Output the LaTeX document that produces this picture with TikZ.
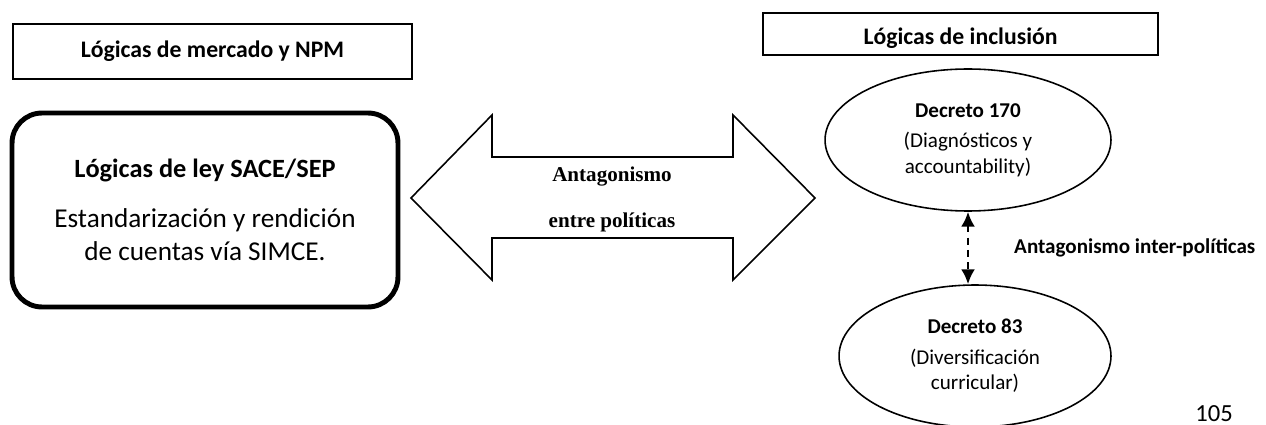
\documentclass[tikz,border=0pt]{standalone}
\usepackage{fontspec}
\setmainfont{Carlito}
\newfontfamily\timesfont{Liberation Serif}
\usetikzlibrary{shapes.geometric,arrows.meta}
\begin{document}
\begin{tikzpicture}[x=0.02cm,y=-0.02cm,
        headbox/.style={draw,line width=0.9pt,inner sep=0pt,font=\fontsize{13.5}{16}\selectfont\bfseries},
        leybox/.style={draw,line width=2.8pt,rounded corners=0.6cm,inner sep=0pt,align=center},
        decreto/.style={draw,ellipse,line width=0.9pt,inner sep=0pt,align=center,font=\fontsize{12}{14.5}\selectfont},
        arrowtext/.style={font=\timesfont\fontsize{12}{14}\selectfont\bfseries},
        pagenum/.style={anchor=north west,inner sep=0pt,font=\fontsize{14}{16}\selectfont}]
                \useasboundingbox (0,0) rectangle (1266,425);

                \node[headbox,minimum width=7.98cm,minimum height=1.1cm] (mercado) at (212.5,51.5) {Lógicas de mercado y NPM};
                \node[headbox,minimum width=7.9cm,minimum height=0.84cm,text height=2.6ex,text depth=0pt] (inclusion) at (960.5,34) {Lógicas de inclusión};

                \node[leybox,minimum width=7.72cm,minimum height=3.88cm,font=\fontsize{15.5}{19}\selectfont] (sace) at (205,210)
                    {\textbf{\fontsize{15}{18}\selectfont Lógicas de ley SACE/SEP}\\[9pt]
                     Estandarización y rendición\\ de cuentas vía SIMCE.};

                \draw[line width=0.9pt] (411,198) -- (492,115) -- (492,157) -- (733,157) -- (733,115) -- (815,198)
                    -- (733,280) -- (733,238) -- (492,238) -- (492,280) -- cycle;
                \node[arrowtext] (antag) at (612,177) {Antagonismo};
                \node[arrowtext] (entre) at (612,222) {entre políticas};

                \node[decreto,minimum width=5.72cm,minimum height=2.84cm] (d170) at (968,140)
                    {\textbf{Decreto 170}\\[3pt] (Diagnósticos y\\ accountability)};
                \node[decreto,minimum width=5.44cm,minimum height=2.84cm] (d83) at (975,356)
                    {\textbf{Decreto 83}\\[3pt] (Diversificación\\ curricular)};

                \draw[line width=1.5pt,dash pattern=on 4pt off 3pt,{Latex[length=8.5pt,width=8pt]}-{Latex[length=8.5pt,width=8pt]}]
                    (d170.south) -- (d170.south |- d83.north);
                \node[anchor=west,font=\fontsize{12}{14}\selectfont\bfseries] (inter) at (1008,248) {Antagonismo inter-políticas};

                \node[pagenum] (page) at (1195,405) {105};
\end{tikzpicture}
\end{document}
